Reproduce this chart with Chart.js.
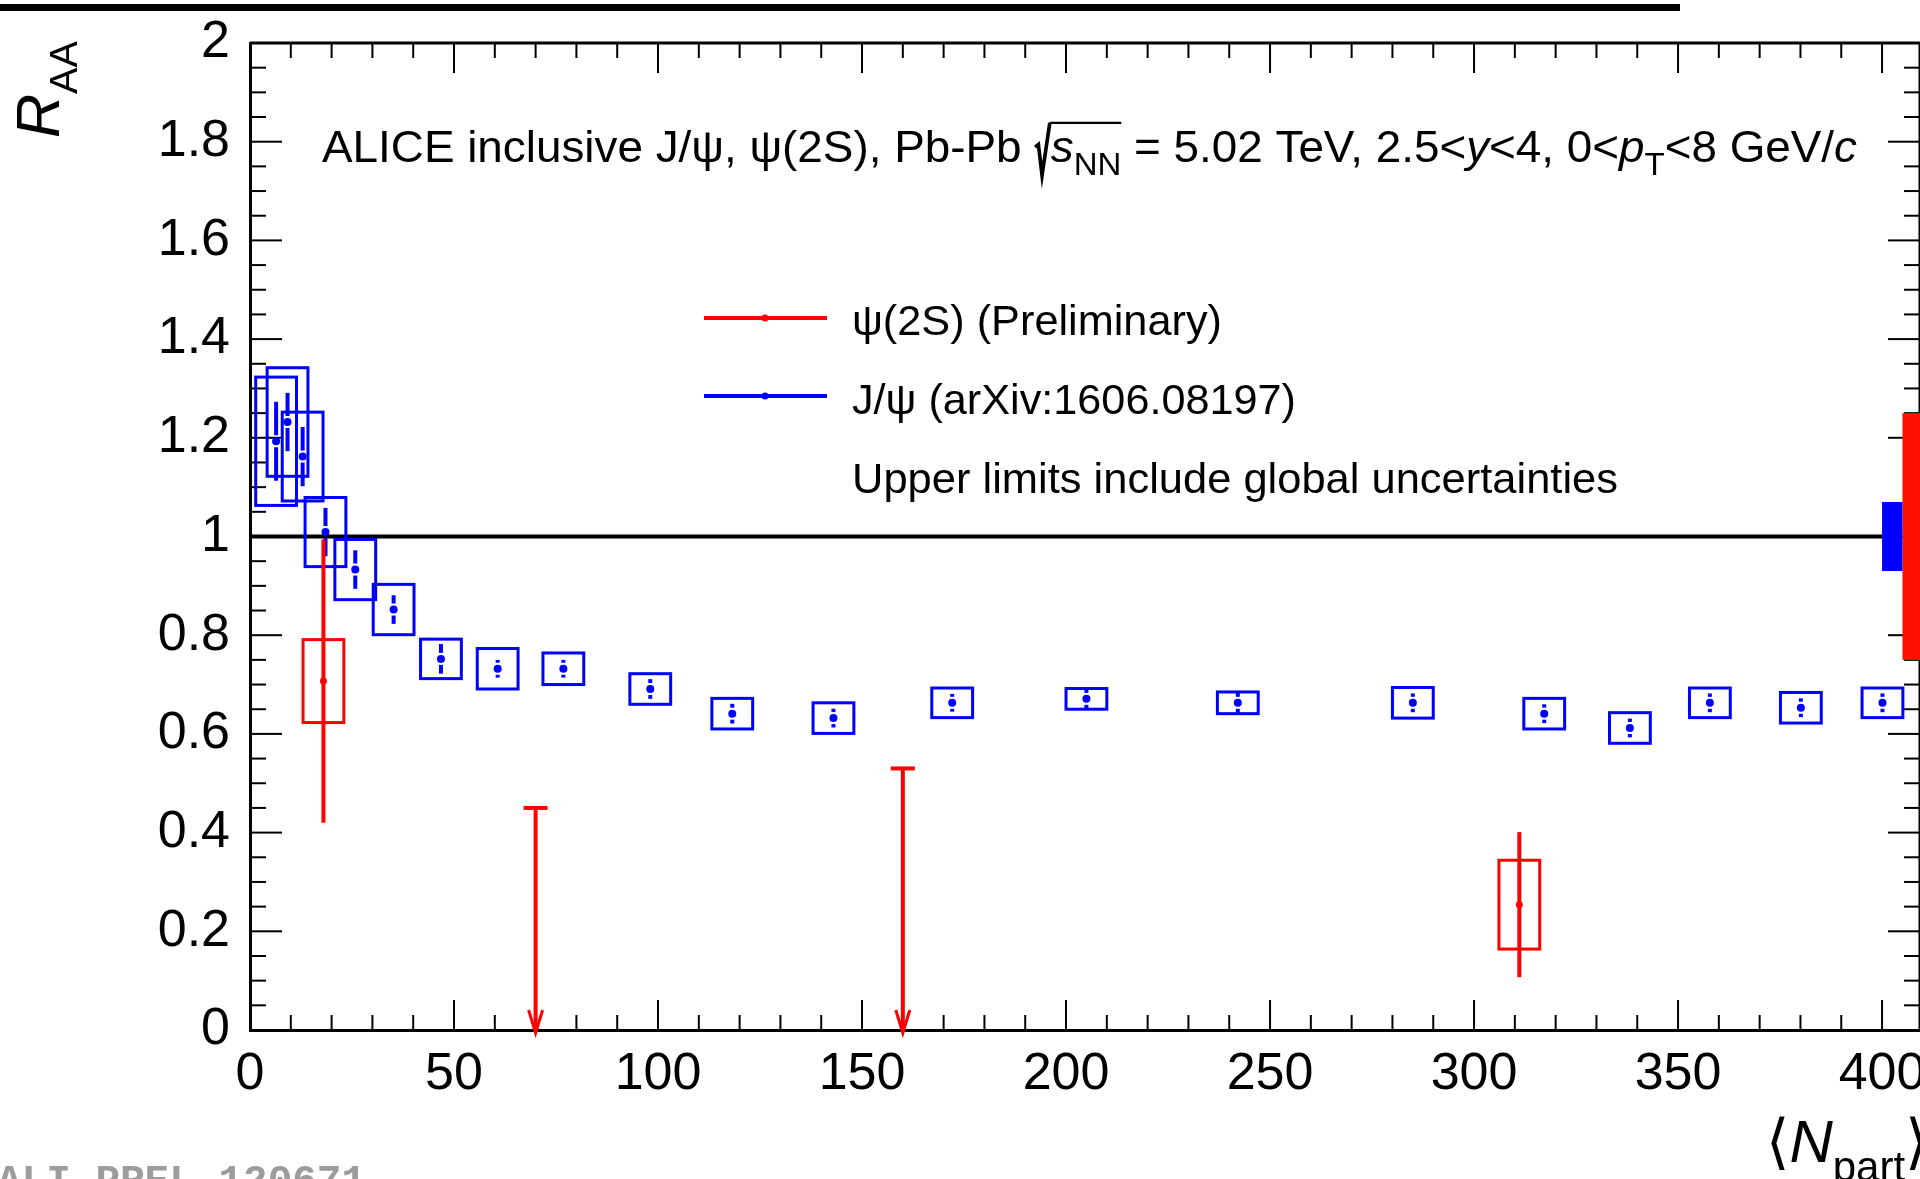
<!DOCTYPE html>
<html>
<head>
<meta charset="utf-8">
<style>
  html, body { margin: 0; padding: 0; background: #fff; }
  #wrap { width: 1920px; height: 1179px; }
</style>
<script src="https://cdn.jsdelivr.net/npm/chart.js@4.4.1/dist/chart.umd.min.js"></script>
</head>
<body>
<div id="wrap"><canvas id="raa" width="1920" height="1179"></canvas></div>
<script>
const FONT = "'Liberation Sans', Arial, Helvetica, 'DejaVu Sans', sans-serif";
const BLUE = "#0000ff";
const RED = "#ff0000";
const RED_GLOBAL = "#ff1100";

// J/psi (arXiv:1606.08197)
const jpsiNpart = [6.4, 9.2, 12.9, 18.5, 25.8, 35.2, 46.8, 60.7, 76.8, 98.1, 118.2, 143.0, 172.1, 205.0, 242.1, 285.0, 317.2, 338.2, 357.8, 380.1, 400.1];
const jpsiRaa   = [1.193, 1.232, 1.162, 1.009, 0.933, 0.852, 0.752, 0.732, 0.732, 0.691, 0.641, 0.632, 0.663, 0.671, 0.663, 0.663, 0.641, 0.612, 0.663, 0.653, 0.663];
const jpsiStat  = [0.080, 0.059, 0.060, 0.049, 0.039, 0.029, 0.030, 0.018, 0.018, 0.020, 0.020, 0.019, 0.018, 0.020, 0.021, 0.019, 0.019, 0.019, 0.019, 0.019, 0.019];
const jpsiSyst  = [0.130, 0.110, 0.090, 0.070, 0.061, 0.051, 0.040, 0.041, 0.032, 0.031, 0.031, 0.031, 0.030, 0.021, 0.022, 0.031, 0.031, 0.031, 0.030, 0.031, 0.030];

// psi(2S) preliminary
const psiNpart = [18.0, 311.1];
const psiRaa   = [0.707, 0.254];
const psiStat  = [0.287, 0.147];
const psiSyst  = [0.084, 0.090];
const psiLimitNpart = [70, 160];
const psiLimit      = [0.45, 0.53];

// global uncertainties around unity
const unity = 1;
const jpsiGlobal = 0.07;
const psiGlobal = 0.25;
const jpsiGlobalNpart = [400, 405];
const psiGlobalNpart = [405, 409.3];
const sysHalfWidth = 5;

const xTickLabels = ["0", "50", "100", "150", "200", "250", "300", "350", "400"];
const yTickLabels = ["0", "0.2", "0.4", "0.6", "0.8", "1", "1.2", "1.4", "1.6", "1.8", "2"];

function drawRich(ctx, runs, x, y, size, opts = {}) {
  const subRatio = opts.sub || 0.72;
  const subShift = opts.shift || 0.3;
  const fontFor = r => (r.it ? "italic " : "") + (r.sub ? size * subRatio : size) + "px " + FONT;
  ctx.save();
  let total = 0;
  const widths = runs.map(r => {
    let w;
    if (r.rad) w = size * 0.36;
    else { ctx.font = fontFor(r); w = ctx.measureText(r.t).width; }
    total += w;
    return w;
  });
  const sx = opts.fit ? opts.fit / total : 1;
  ctx.translate(x, y);
  if (opts.rotate) ctx.rotate(opts.rotate);
  ctx.scale(sx, 1);
  ctx.fillStyle = ctx.strokeStyle = opts.color || "#000";
  ctx.textBaseline = "alphabetic";
  ctx.textAlign = "left";
  let cx = 0, radEnd = null;
  runs.forEach((r, i) => {
    if (r.rad) {
      ctx.lineWidth = size * 0.08;
      ctx.beginPath();
      ctx.moveTo(cx + size * 0.02, -size * 0.34);
      ctx.lineTo(cx + size * 0.09, -size * 0.40);
      ctx.lineTo(cx + size * 0.17, size * 0.30);
      ctx.lineTo(cx + size * 0.34, -size * 0.89);
      ctx.stroke();
      radEnd = cx + size * 0.34;
    } else {
      ctx.font = fontFor(r);
      ctx.fillText(r.t, cx, r.sub ? size * subShift : 0);
    }
    cx += widths[i];
    if (r.ovEnd && radEnd !== null) {
      ctx.lineWidth = size * 0.05;
      ctx.beginPath();
      ctx.moveTo(radEnd, -size * 0.89);
      ctx.lineTo(cx, -size * 0.89);
      ctx.stroke();
    }
  });
  ctx.restore();
}

function line(ctx, x1, y1, x2, y2) {
  ctx.beginPath();
  ctx.moveTo(x1, y1);
  ctx.lineTo(x2, y2);
  ctx.stroke();
}

const physicsLayer = {
  id: "physicsLayer",
  beforeDatasetsDraw(chart) {
    const { ctx, chartArea: a, scales: { x, y } } = chart;
    ctx.save();

    // inward ticks on all four sides, frame top/right
    ctx.strokeStyle = "#000";
    ctx.lineWidth = 2;
    for (let i = 0; i * 10 <= x.max; i++) {
      const px = x.getPixelForValue(i * 10);
      const len = i % 5 === 0 ? 30 : 15;
      line(ctx, px, a.bottom, px, a.bottom - len);
      line(ctx, px, a.top, px, a.top + len);
    }
    for (let i = 0; i <= 40; i++) {
      const py = y.getPixelForValue(i * 0.05);
      const len = i % 4 === 0 ? 32 : 16;
      line(ctx, a.left, py, a.left + len, py);
      line(ctx, a.right, py, a.right - len, py);
    }
    ctx.lineWidth = 3;
    line(ctx, a.left, a.top, a.right, a.top);
    line(ctx, a.right, a.top, a.right, a.bottom);

    ctx.beginPath();
    ctx.rect(a.left, a.top, a.right - a.left, a.bottom - a.top);
    ctx.clip();

    // unity line
    ctx.strokeStyle = "#000";
    ctx.lineWidth = 4;
    line(ctx, x.getPixelForValue(0), y.getPixelForValue(unity), x.getPixelForValue(400), y.getPixelForValue(unity));

    // global uncertainty boxes
    const band = (range, half, color) => {
      const x1 = x.getPixelForValue(range[0]), x2 = x.getPixelForValue(range[1]);
      const y1 = y.getPixelForValue(unity + half), y2 = y.getPixelForValue(unity - half);
      ctx.fillStyle = color;
      ctx.fillRect(x1, y1, x2 - x1, y2 - y1);
    };
    band(psiGlobalNpart, psiGlobal, RED_GLOBAL);
    band(jpsiGlobalNpart, jpsiGlobal, BLUE);

    const sysBoxes = (xs, ys, sys, color) => {
      ctx.strokeStyle = color;
      ctx.lineWidth = 3;
      xs.forEach((v, i) => {
        const x1 = x.getPixelForValue(v - sysHalfWidth), x2 = x.getPixelForValue(v + sysHalfWidth);
        const y1 = y.getPixelForValue(ys[i] + sys[i]), y2 = y.getPixelForValue(ys[i] - sys[i]);
        ctx.strokeRect(x1, y1, x2 - x1, y2 - y1);
      });
    };
    const statBars = (xs, ys, stat, color, gap) => {
      ctx.strokeStyle = color;
      ctx.lineWidth = 4;
      xs.forEach((v, i) => {
        const px = x.getPixelForValue(v);
        const pc = y.getPixelForValue(ys[i]);
        const pt = y.getPixelForValue(ys[i] + stat[i]);
        const pb = y.getPixelForValue(ys[i] - stat[i]);
        if (pc - gap > pt) line(ctx, px, pt, px, pc - gap);
        if (pc + gap < pb) line(ctx, px, pc + gap, px, pb);
      });
    };

    sysBoxes(jpsiNpart, jpsiRaa, jpsiSyst, BLUE);
    statBars(jpsiNpart, jpsiRaa, jpsiStat, BLUE, 6);
    sysBoxes(psiNpart, psiRaa, psiSyst, RED);
    statBars(psiNpart, psiRaa, psiStat, RED, 0);

    // upper limits
    ctx.restore();
    ctx.save();
    ctx.strokeStyle = RED;
    ctx.lineWidth = 4;
    psiLimitNpart.forEach((v, i) => {
      const px = x.getPixelForValue(v);
      const top = y.getPixelForValue(psiLimit[i]);
      const bottom = y.getPixelForValue(0);
      line(ctx, px, top, px, bottom);
      line(ctx, px - 12, top, px + 12, top);
      ctx.lineWidth = 3;
      ctx.beginPath();
      ctx.moveTo(px - 7, bottom - 20);
      ctx.lineTo(px, bottom + 3);
      ctx.lineTo(px + 7, bottom - 20);
      ctx.stroke();
      ctx.lineWidth = 4;
    });
    ctx.restore();
  },
  afterDraw(chart) {
    const { ctx } = chart;
    ctx.save();

    // slide title underline (cropped)
    ctx.fillStyle = "#000";
    ctx.fillRect(0, 4, 1680, 7);

    // annotation
    drawRich(ctx, [
      { t: "ALICE inclusive J/ψ, ψ(2S), Pb-Pb " },
      { rad: true },
      { t: "s", it: true },
      { t: "NN", sub: true, ovEnd: true },
      { t: " = 5.02 TeV, 2.5<" },
      { t: "y", it: true },
      { t: "<4, 0<" },
      { t: "p", it: true },
      { t: "T", sub: true },
      { t: "<8 GeV/" },
      { t: "c", it: true }
    ], 322, 162, 44, { fit: 1535 });

    // legend
    const legend = [
      { color: RED, y: 318, text: "ψ(2S) (Preliminary)", base: 335, fit: 370 },
      { color: BLUE, y: 396, text: "J/ψ (arXiv:1606.08197)", base: 414, fit: 444 }
    ];
    legend.forEach(l => {
      ctx.strokeStyle = l.color;
      ctx.fillStyle = l.color;
      ctx.lineWidth = 4;
      line(ctx, 704, l.y, 827, l.y);
      ctx.beginPath();
      ctx.arc(765, l.y, 3.5, 0, Math.PI * 2);
      ctx.fill();
      drawRich(ctx, [{ t: l.text }], 852, l.base, 43, { fit: l.fit });
    });
    drawRich(ctx, [{ t: "Upper limits include global uncertainties" }], 852, 492.5, 43, { fit: 766 });

    // axis titles
    drawRich(ctx, [{ t: "R", it: true }, { t: "AA", sub: true }], 59, 138, 61, { rotate: -Math.PI / 2, sub: 0.65, shift: 0.29 });
    drawRich(ctx, [{ t: "⟨" }, { t: "N", it: true }, { t: "part", sub: true }, { t: "⟩" }], 1766, 1162, 60, { sub: 0.7, shift: 0.32 });

    // preliminary id
    ctx.font = "bold 41px 'Liberation Mono', 'DejaVu Sans Mono', monospace";
    ctx.fillStyle = "#9c9c9c";
    ctx.textBaseline = "alphabetic";
    ctx.fillText("ALI-PREL-120671", -3, 1193);
    ctx.restore();
  }
};

const tickFont = { family: FONT, size: 52 };

new Chart(document.getElementById("raa"), {
  type: "scatter",
  data: {
    datasets: [
      {
        label: "J/ψ (arXiv:1606.08197)",
        data: jpsiNpart.map((v, i) => ({ x: v, y: jpsiRaa[i] })),
        pointRadius: 4,
        pointBackgroundColor: BLUE,
        pointBorderWidth: 0
      },
      {
        label: "ψ(2S) (Preliminary)",
        data: psiNpart.map((v, i) => ({ x: v, y: psiRaa[i] })),
        pointRadius: 3.5,
        pointBackgroundColor: RED,
        pointBorderWidth: 0
      }
    ]
  },
  options: {
    responsive: false,
    animation: false,
    events: [],
    layout: { autoPadding: false, padding: { left: 0, right: 0, top: 43, bottom: 0 } },
    plugins: { legend: { display: false }, tooltip: { enabled: false } },
    scales: {
      x: {
        type: "linear",
        min: 0,
        max: 409.3,
        grid: { display: false, drawTicks: false },
        border: { display: true, color: "#000", width: 3 },
        ticks: {
          stepSize: 50,
          includeBounds: false,
          autoSkip: false,
          maxRotation: 0,
          padding: 13,
          color: "#000",
          font: tickFont,
          callback: (v, i) => xTickLabels[i]
        },
        afterFit(s) { s.height = 149; s.paddingLeft = 0; s.paddingRight = 0; }
      },
      y: {
        type: "linear",
        min: 0,
        max: 2,
        grid: { display: false, drawTicks: false },
        border: { display: true, color: "#000", width: 3 },
        ticks: {
          stepSize: 0.2,
          autoSkip: false,
          padding: 20,
          color: "#000",
          font: tickFont,
          callback: (v, i) => yTickLabels[i]
        },
        afterFit(s) { s.width = 250; s.paddingTop = 0; s.paddingBottom = 0; }
      }
    }
  },
  plugins: [physicsLayer]
});
</script>
</body>
</html>
